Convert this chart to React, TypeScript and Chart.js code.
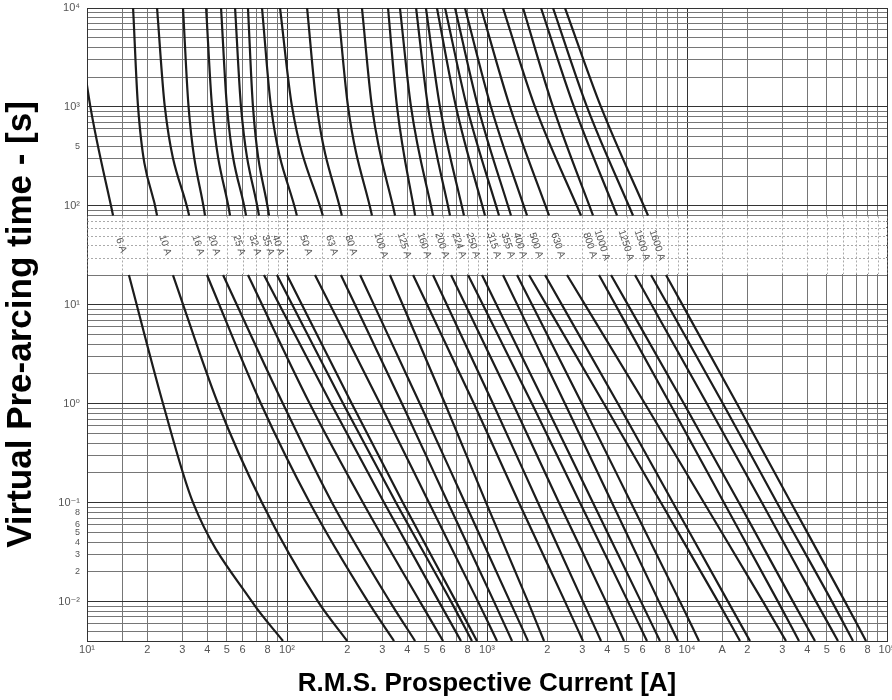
import { useEffect, useRef } from 'react';
import { Chart, registerables } from 'chart.js';

Chart.register(...registerables);

// Fuse ratings (curve labels)
const ratings = ['6 A', '10 A', '16 A', '20 A', '25 A', '32 A', '35 A', '40 A', '50 A', '63 A', '80 A', '100 A', '125 A', '160 A', '200 A', '224 A', '250 A', '315 A', '355 A', '400 A', '500 A', '630 A', '800 A', '1000 A', '1250 A', '1500 A', '1600 A'];

// Upper branch: pre-arcing time [s] and current [A] per rating
const upperTimes = [10000, 1000, 80];
const upperCurrents = [
  [8.8, 10.4, 13.5],
  [17.0, 18.0, 22.4],
  [22.4, 24.5, 32.4],
  [30.2, 32.2, 38.9],
  [39.4, 42.2, 51.9],
  [46.8, 50.1, 62.4],
  [55.0, 58.9, 72.4],
  [63.8, 67.6, 81.3],
  [75.0, 83.2, 112],
  [92.3, 106, 151],
  [126, 141, 188],
  [180, 202, 266],
  [237, 266, 347],
  [320, 355, 437],
  [367, 417, 537],
  [442, 507, 653],
  [495, 582, 767],
  [562, 700, 977],
  [617, 794, 1148],
  [692, 902, 1318],
  [776, 1047, 1585],
  [933, 1303, 2042],
  [1202, 1738, 2951],
  [1514, 2138, 3388],
  [1862, 2723, 4467],
  [2138, 3162, 5370],
  [2455, 3715, 6383],
];

// Lower branch
const lowerTimes = [20, 1, 0.1, 0.01, 0.004];
const lowerCurrents = [
  [16.2, 24.0, 33.9, 66.8, 95.5],
  [26.9, 45.2, 75.0, 143, 200],
  [39.8, 74.1, 130, 254, 343],
  [47.9, 95.5, 168, 327, 437],
  [63.8, 130, 240, 462, 603],
  [76.7, 166, 306, 575, 741],
  [89.1, 191, 351, 661, 841],
  [100, 211, 380, 700, 891],
  [138, 292, 513, 902, 1122],
  [186, 376, 638, 1084, 1334],
  [232, 462, 776, 1303, 1603],
  [327, 617, 989, 1603, 1928],
  [427, 861, 1445, 2455, 3020],
  [537, 1072, 1799, 3020, 3715],
  [661, 1349, 2291, 3936, 4842],
  [804, 1679, 2917, 5070, 6310],
  [944, 1950, 3388, 5888, 7328],
  [1202, 2455, 4217, 7244, 9016],
  [1413, 2985, 5248, 9226, 11482],
  [1622, 3846, 7413, 14289, 18408],
  [1950, 4519, 8511, 16032, 20654],
  [2512, 6166, 12162, 23988, 31261],
  [3631, 8222, 15311, 28510, 36308],
  [4169, 9661, 18197, 33884, 43652],
  [5495, 12589, 23714, 44157, 56885],
  [6607, 15136, 28184, 53088, 67608],
  [7852, 17783, 33113, 61660, 78524],
];

// Band where curve labels sit
const bandTop = 80;
const bandBottom = 20;
const bandLabelTime = 40;
const bandGridTimes = [70, 60, 50, 40, 30];

// Axes
const xMin = 10;
const xMax = 100000;
const yMin = 0.004;
const yMax = 10000;
const xDecades = [10, 100, 1000, 10000];
const xMultiples = [1, 1.5, 2, 3, 4, 5, 6, 7, 8, 9];
const yDecades = [0.001, 0.01, 0.1, 1, 10, 100, 1000];
const yMultiples = [1, 2, 3, 4, 5, 6, 7, 8, 9];

const xTickValues = [10, 20, 30, 40, 50, 60, 80, 100, 200, 300, 400, 500, 600, 800, 1000, 2000, 3000, 4000, 5000, 6000, 8000, 10000, 15000, 20000, 30000, 40000, 50000, 60000, 80000, 100000];
const xTickLabels = ['10¹', '2', '3', '4', '5', '6', '8', '10²', '2', '3', '4', '5', '6', '8', '10³', '2', '3', '4', '5', '6', '8', '10⁴', 'A', '2', '3', '4', '5', '6', '8', '10⁵'];
const yTickValues = [10000, 1000, 400, 100, 10, 1, 0.1, 0.08, 0.06, 0.05, 0.04, 0.03, 0.02, 0.01];
const yTickLabels = ['10⁴', '10³', '5', '10²', '10¹', '10⁰', '10⁻¹', '8', '6', '5', '4', '3', '2', '10⁻²'];

const FONT = "'Liberation Sans', Arial, 'DejaVu Sans', sans-serif";

const same = (a: number, b: number) => Math.abs(Math.log10(a) - Math.log10(b)) < 1e-6;
const isDecade = (v: number) => {
  const l = Math.log10(v);
  return Math.abs(l - Math.round(l)) < 1e-6;
};
const labelFor = (v: number, vals: number[], labs: string[]) => {
  for (let i = 0; i < vals.length; i++) if (same(v, vals[i])) return labs[i];
  return '';
};

function buildGrid(decades: number[], mults: number[], lo: number, hi: number) {
  const out: number[] = [];
  decades.forEach((d) => mults.forEach((m) => {
    const v = d * m;
    if (v >= lo * 0.9999 && v <= hi * 1.0001) out.push(v);
  }));
  out.push(hi);
  return out.filter((v, i, a) => a.findIndex((w) => same(w, v)) === i);
}

const xGrid = buildGrid(xDecades, xMultiples, xMin, xMax);
const yGrid = buildGrid(yDecades, yMultiples, yMin, yMax);

const gridColor = (ctx: any) => {
  const v = ctx.tick && ctx.tick.value;
  if (!v) return '#777';
  return isDecade(v) ? '#333333' : '#767676';
};

const bandPlugin = {
  id: 'band',
  beforeDatasetsDraw(chart: any) {
    const { ctx, chartArea, scales } = chart;
    const x = scales.x;
    const y = scales.y;
    const y0 = y.getPixelForValue(bandTop);
    const y1 = y.getPixelForValue(bandBottom);
    ctx.save();
    ctx.fillStyle = '#ffffff';
    ctx.fillRect(chartArea.left + 1, y0 + 1, chartArea.right - chartArea.left - 2, y1 - y0 - 2);
    ctx.lineWidth = 1;
    ctx.setLineDash([2, 2]);
    bandGridTimes.forEach((t) => {
      const py = Math.round(y.getPixelForValue(t)) + 0.5;
      ctx.strokeStyle = '#aaaaaa';
      ctx.beginPath();
      ctx.moveTo(chartArea.left, py);
      ctx.lineTo(chartArea.right, py);
      ctx.stroke();
    });
    xGrid.forEach((v) => {
      const px = Math.round(x.getPixelForValue(v)) + 0.5;
      ctx.strokeStyle = isDecade(v) ? '#666666' : '#aaaaaa';
      ctx.beginPath();
      ctx.moveTo(px, y0 + 1);
      ctx.lineTo(px, y1 - 1);
      ctx.stroke();
    });
    ctx.restore();
  },
  afterDatasetsDraw(chart: any) {
    const { ctx, scales } = chart;
    const x = scales.x;
    const y = scales.y;
    const py = y.getPixelForValue(bandLabelTime);
    ctx.save();
    ctx.fillStyle = '#555';
    ctx.font = `10px ${FONT}`;
    ctx.textAlign = 'center';
    ctx.textBaseline = 'middle';
    ratings.forEach((r, i) => {
      const up = upperCurrents[i];
      const xa = x.getPixelForValue(up[up.length - 1]);
      const xb = x.getPixelForValue(lowerCurrents[i][0]);
      const px = (xa + xb) / 2;
      ctx.save();
      ctx.translate(px, py);
      ctx.rotate((72 * Math.PI) / 180);
      ctx.fillText(r, 0, 0);
      ctx.restore();
    });
    ctx.restore();
  },
};

export default function App() {
  const ref = useRef<HTMLCanvasElement | null>(null);

  useEffect(() => {
    if (!ref.current) return;
    const datasets: any[] = [];
    ratings.forEach((r, i) => {
      const common = {
        showLine: true,
        pointRadius: 0,
        borderColor: '#1c1c1c',
        borderWidth: 2.2,
        cubicInterpolationMode: 'monotone',
        fill: false,
      };
      datasets.push({
        ...common,
        label: r + ' (long)',
        data: upperTimes.map((t, k) => ({ x: upperCurrents[i][k], y: t })),
      });
      datasets.push({
        ...common,
        label: r,
        data: lowerTimes.map((t, k) => ({ x: lowerCurrents[i][k], y: t })),
      });
    });

    const chart = new Chart(ref.current, {
      type: 'scatter',
      data: { datasets },
      plugins: [bandPlugin],
      options: {
        animation: false,
        responsive: false,
        devicePixelRatio: 1,
        layout: { padding: { top: 8, right: 5, left: 0, bottom: 0 } },
        plugins: { legend: { display: false }, tooltip: { enabled: false } },
        scales: {
          x: {
            type: 'logarithmic',
            position: 'bottom',
            min: xMin,
            max: xMax,
            afterBuildTicks: (s: any) => {
              s.ticks = xGrid.map((v) => ({ value: v }));
            },
            afterFit: (s: any) => {
              s.height = 59;
              s.paddingLeft = 0;
              s.paddingRight = 0;
            },
            ticks: {
              autoSkip: false,
              maxRotation: 0,
              minRotation: 0,
              padding: 2,
              color: '#555',
              font: { family: FONT, size: 11 },
              callback: (v: any) => labelFor(Number(v), xTickValues, xTickLabels),
            },
            grid: { color: gridColor, lineWidth: 1, drawTicks: false },
            border: { display: true, color: '#333' },
            title: {
              display: true,
              text: 'R.M.S. Prospective Current [A]',
              color: '#000',
              font: { family: FONT, size: 26, weight: 'bold' },
              padding: { top: 0, bottom: 1 },
            },
          },
          y: {
            type: 'logarithmic',
            position: 'left',
            min: yMin,
            max: yMax,
            afterBuildTicks: (s: any) => {
              s.ticks = yGrid.map((v) => ({ value: v }));
            },
            afterFit: (s: any) => {
              s.width = 87;
              s.paddingTop = 0;
              s.paddingBottom = 0;
            },
            ticks: {
              autoSkip: false,
              padding: 7,
              color: '#555',
              font: (c: any) => {
                const v = c.tick && c.tick.value;
                return { family: FONT, size: v && isDecade(v) ? 11 : 9 };
              },
              callback: (v: any) => labelFor(Number(v), yTickValues, yTickLabels),
            },
            grid: { color: gridColor, lineWidth: 1, drawTicks: false },
            border: { display: true, color: '#333' },
            title: {
              display: true,
              text: 'Virtual Pre-arcing time - [s]',
              color: '#000',
              font: { family: FONT, size: 35, weight: 'bold' },
              padding: { top: 0, bottom: 0 },
            },
          },
        },
      } as any,
    });
    return () => chart.destroy();
  }, []);

  return (
    <div style={{ position: 'fixed', left: 0, top: 0, width: 892, height: 700, background: '#fff' }}>
      <canvas ref={ref} width={892} height={700} style={{ display: 'block', width: 892, height: 700 }} />
    </div>
  );
}
